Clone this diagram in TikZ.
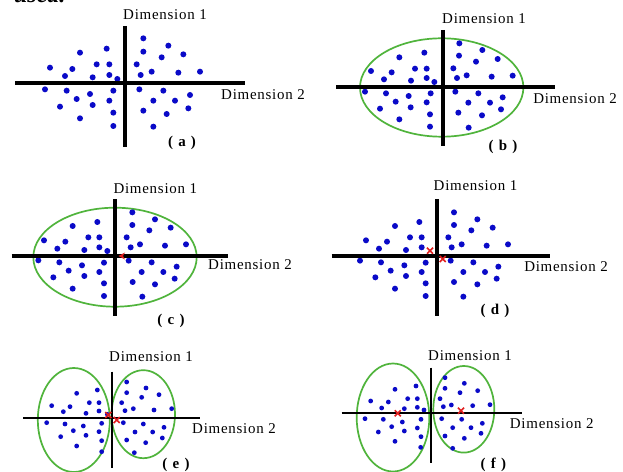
\documentclass[tikz,border=0pt]{standalone}
\usepackage{fontspec}
\setmainfont{Liberation Serif}
\definecolor{dotblue}{RGB}{10,10,200}
\definecolor{clgreen}{RGB}{80,180,60}
\definecolor{cred}{RGB}{225,30,30}
\begin{document}
\begin{tikzpicture}[x=1bp,y=-1bp,
  dot/.style={fill=dotblue},
  axisthick/.style={line width=3.8bp,black},
  axisthin/.style={line width=2bp,black},
  cluster/.style={draw=clgreen,line width=1.7bp},
  dimlabel/.style={font=\fontsize{15}{15}\selectfont\addfontfeature{LetterSpace=5},inner sep=0pt},
  caption/.style={font=\fontsize{15}{15}\selectfont\bfseries\addfontfeature{LetterSpace=10},inner sep=0pt},
  centroid/.style={draw=cred,line width=1.6bp},
  xmark/.pic={\draw[centroid] (-3,-3)--(3,3) (-3,3)--(3,-3);}]
\useasboundingbox (0,0) rectangle (623,472);
\fill[white] (0,0) rectangle (623,472);
% cut-off text at the top
\node[font=\fontsize{24}{24}\selectfont\bfseries\itshape,anchor=base west,inner sep=0pt] (cut) at (14,3) {used.};

% ---------------- panel (a)
\foreach \px/\py in {430/115,505/137,240/158,320/146,430/155,485/172,550/163,150/203,217/207,290/193,328/193,410/193,195/228,278/232,328/225,352/237,422/225,455/215,535/218,600/215,135/268,200/272,270/282,340/272,418/268,490/272,570/285,230/297,328/302,460/302,525/302,180/320,278/315,340/338,430/332,500/342,565/325,240/355,340/378,460/380}
  \fill[dot] ({\px/3},{\py/3}) circle[radius=3bp];
\draw[axisthick] (125,26) -- (125,147);
\draw[axisthick] (15,83) -- (245,83);
\node[dimlabel] (a1) at (165,15) {Dimension 1};
\node[dimlabel] (a2) at (263,95) {Dimension 2};
\node[caption] (ca) at (182,143) {( a )};

% ---------------- panel (b)
\draw[cluster] (441.7,87.5) ellipse[x radius=81.7bp,y radius=49.2bp];
\foreach \px/\py in {448/130,517/150,268/172,343/158,447/167,498/185,563/177,183/213,245/217,315/206,350/206,430/205,222/238,303/242,350/234,373/246,441/234,470/226,545/230,608/227,165/275,228/280,296/288,362/280,436/275,505/280,578/292,257/305,350/307,475/308,540/308,210/326,302/322,360/343,445/338,516/346,573/328,268/358,360/380,476/383}
  \fill[dot] ({\px/3+310},{\py/3}) circle[radius=3bp];
\draw[axisthick] (442.7,30) -- (442.7,146);
\draw[axisthick] (336,87.3) -- (555,87.3);
\node[dimlabel] (b1) at (484,18.3) {Dimension 1};
\node[dimlabel] (b2) at (575,99) {Dimension 2};
\node[caption] (cb) at (503,146.7) {( b )};

% ---------------- panel (c)
\draw[cluster] (115,257.2) ellipse[x radius=81.7bp,y radius=49.5bp];
\foreach \px/\py in {397/157,465/178,218/198,292/186,397/195,448/211,512/203,132/241,196/245,265/232,298/232,380/232,172/266,253/270,298/262,322/273,392/262,420/253,495/257,558/253,115/301,178/307,246/316,312/308,386/302,455/307,530/320,206/332,298/336,425/336,490/336,160/352,253/348,312/370,398/366,465/373,524/356,218/386,312/408,427/410}
  \fill[dot] ({\px/3},{\py/3+160}) circle[radius=3bp];
\draw[axisthick] (115,199.3) -- (115,316);
\draw[axisthick] (11.7,255.7) -- (228.3,255.7);
\fill[cred] (118.5,256) -- (125,252.5) -- (123,256) -- (125,259.5) -- cycle;
\node[dimlabel] (c1) at (155.3,188.3) {Dimension 1};
\node[dimlabel] (c2) at (250,265) {Dimension 2};
\node[caption] (cc) at (171,321) {( c )};

% ---------------- panel (d)
\foreach \px/\py in {432/157,502/178,255/198,328/186,432/195,484/211,548/203,168/241,231/245,300/232,335/232,415/232,207/266,288/270,335/262,425/262,455/253,530/257,594/253,150/302,213/307,283/316,347/308,422/302,490/307,565/320,242/332,335/336,460/336,525/336,196/352,288/348,347/370,432/366,502/373,560/356,255/386,347/408,460/410}
  \fill[dot] ({\px/3+310},{\py/3+160}) circle[radius=3bp];
\draw[axisthick] (436.7,199.3) -- (436.7,316);
\draw[axisthick] (331.7,255.7) -- (550,255.7);
\pic at (430,250.7) {xmark};
\pic at (442.7,259) {xmark};
\node[dimlabel] (d1) at (475.5,186) {Dimension 1};
\node[dimlabel] (d2) at (566,266.7) {Dimension 2};
\node[caption] (cd) at (495,311) {( d )};

% ---------------- panel (e)
\draw[cluster] (73.8,420) ellipse[x radius=36bp,y radius=52bp];
\draw[cluster] (143.3,414.2) ellipse[x radius=31.7bp,y radius=44bp];
\foreach \px/\py in {230/220,292/210,155/257,190/275,210/260,268/248,297/248,258/280,297/273,322/283,140/308,195/312,250/318,305/310,220/332,297/335,182/350,258/346,305/362,230/378,305/395,380/186,438/204,380/218,425/232,477/224,365/248,375/272,400/266,462/270,515/266,370/308,430/312,405/336,458/336,492/322,380/360,437/368,487/354,403/398}
  \fill[dot] ({\px/3},{\py/3+320}) circle[radius=2.4bp];
\draw[axisthin] (111.7,371.7) -- (111.7,468.3);
\draw[axisthin] (23.3,417.7) -- (200,417.7);
\pic at (108.3,415) {xmark};
\pic at (116.7,420) {xmark};
\node[dimlabel] (e1) at (151,356.7) {Dimension 1};
\node[dimlabel] (e2) at (234,428.3) {Dimension 2};
\node[caption] (ce) at (176,464.5) {( e )};

% ---------------- panel (f)
\draw[cluster] (393,417.5) ellipse[x radius=36.3bp,y radius=54bp];
\draw[cluster] (463.8,409.3) ellipse[x radius=30.5bp,y radius=43.3bp];
\foreach \px/\py in {255/208,318/198,182/243,235/246,215/264,293/236,322/236,283/266,322/262,342/270,165/296,220/298,277/306,333/298,245/320,205/336,283/333,322/324,255/364,333/350,332/382,405/173,463/190,405/205,450/218,503/212,390/236,424/255,400/260,488/257,540/254,395/296,455/298,428/323,483/323,517/310,405/348,463/355,513/340,428/385}
  \fill[dot] ({\px/3+310},{\py/3+320}) circle[radius=2.4bp];
\draw[axisthin] (430.7,367.7) -- (430.7,463.3);
\draw[axisthin] (341.7,413.3) -- (521.7,413.3);
\pic at (397.7,413.3) {xmark};
\pic at (461,410.7) {xmark};
\node[dimlabel] (f1) at (470,356) {Dimension 1};
\node[dimlabel] (f2) at (551.7,424) {Dimension 2};
\node[caption] (cf) at (493.3,464.5) {( f )};
\end{tikzpicture}
\end{document}
